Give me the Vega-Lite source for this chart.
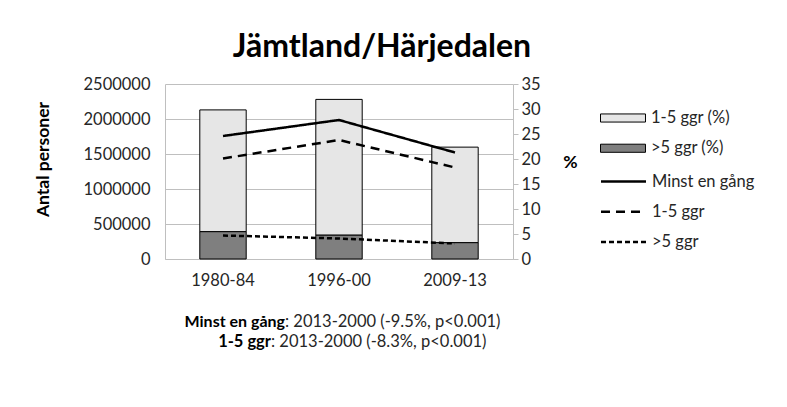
{
  "$schema": "https://vega.github.io/schema/vega-lite/v6.json",
  "width": 348,
  "height": 175,
  "autosize": "none",
  "padding": {"left": 165, "top": 84, "right": 274, "bottom": 148},
  "background": "white",
  "config": {
    "font": "Lato",
    "view": {"stroke": null},
    "axis": {"labelFont": "Lato", "labelFontSize": 16.5, "labelColor": "#262626", "labelOverlap": false, "titleFont": "Lato", "titleColor": "#000000", "titleFontSize": 17.5, "titleFontWeight": "bold"},
    "axisLeft": {"values": [0, 500000, 1000000, 1500000, 2000000, 2500000], "format": "d", "labelBound": false,
      "grid": true, "gridColor": "#bfbfbf", "gridWidth": 1, "ticks": false, "tickSize": 0, "domain": true, "domainColor": "#bfbfbf",
      "labelPadding": 15, "titleX": -122, "titleY": 75, "titleAngle": -90, "titleAlign": "center", "titleBaseline": "middle"},
    "legend": {"labelFont": "Lato", "labelFontSize": 16.5, "labelColor": "#262626"}
  },
  "title": {"text": "Jämtland/Härjedalen", "fontSize": 32, "fontWeight": "bold", "font": "Lato", "color": "#000000", "anchor": "middle", "dx": 43, "offset": 12},
  "datasets": {
    "bars": [
      {"period": "1980-84", "serie": "1-5 ggr (%)", "value": 1740000},
      {"period": "1980-84", "serie": ">5 ggr (%)", "value": 390000},
      {"period": "1996-00", "serie": "1-5 ggr (%)", "value": 1940000},
      {"period": "1996-00", "serie": ">5 ggr (%)", "value": 340000},
      {"period": "2009-13", "serie": "1-5 ggr (%)", "value": 1365000},
      {"period": "2009-13", "serie": ">5 ggr (%)", "value": 233000}
    ],
    "lines": [
      {"period": "1980-84", "serie": "Minst en gång", "pct": 24.6},
      {"period": "1996-00", "serie": "Minst en gång", "pct": 27.8},
      {"period": "2009-13", "serie": "Minst en gång", "pct": 21.3},
      {"period": "1980-84", "serie": "1-5 ggr", "pct": 20.1},
      {"period": "1996-00", "serie": "1-5 ggr", "pct": 23.8},
      {"period": "2009-13", "serie": "1-5 ggr", "pct": 18.3},
      {"period": "1980-84", "serie": ">5 ggr", "pct": 4.7},
      {"period": "1996-00", "serie": ">5 ggr", "pct": 4.1},
      {"period": "2009-13", "serie": ">5 ggr", "pct": 3.1}
    ],
    "notes": [
      {"id": 1, "lead": "Minst en gång", "detail": ": 2013-2000 (-9.5%, p<0.001)"},
      {"id": 2, "lead": "1-5 ggr", "detail": ": 2013-2000 (-8.3%, p<0.001)"}
    ]
  },
  "layer": [
    {
      "layer": [
        {
          "data": {"name": "bars"},
          "mark": {"type": "bar", "stroke": "#000000", "strokeWidth": 1},
          "encoding": {
            "x": {"field": "period", "type": "nominal", "scale": {"paddingInner": 0.6, "paddingOuter": 0.3},
              "axis": {"title": null, "labelAngle": 0, "ticks": false, "domain": true, "domainColor": "#bfbfbf", "labelPadding": 13}},
            "y": {"field": "value", "type": "quantitative", "stack": true, "scale": {"domain": [0, 2500000], "nice": false},
              "axis": {"title": "Antal personer"}},
            "color": {"field": "serie", "type": "nominal",
              "scale": {"domain": ["1-5 ggr (%)", ">5 ggr (%)"], "range": ["#e6e6e6", "#7f7f7f"]},
              "legend": {"title": null, "orient": "none", "legendX": 446, "legendY": 22, "padding": 0,
                "symbolType": "M-2,-0.36H2V0.36H-2Z", "symbolSize": 506, "symbolStrokeColor": "#000000", "symbolStrokeWidth": 1,
                "labelOffset": 16, "rowPadding": 9.25}},
            "order": {"field": "serie", "sort": "descending"}
          }
        },
        {
          "data": {"name": "notes"},
          "transform": [{"filter": "datum.id == 1"}],
          "mark": {"type": "text", "align": "right", "baseline": "middle", "fontWeight": "bold", "fontSize": 16, "font": "Lato", "color": "#000000", "dx": -54, "dy": 63},
          "encoding": {"x": {"datum": "1996-00"}, "y": {"datum": 0, "axis": {"title": "Antal personer"}}, "text": {"field": "lead"}}
        },
        {
          "data": {"name": "notes"},
          "transform": [{"filter": "datum.id == 1"}],
          "mark": {"type": "text", "align": "left", "baseline": "middle", "fontSize": 16.5, "font": "Lato", "color": "#262626", "dx": -54, "dy": 63},
          "encoding": {"x": {"datum": "1996-00"}, "y": {"datum": 0, "axis": {"title": "Antal personer"}}, "text": {"field": "detail"}}
        },
        {
          "data": {"name": "notes"},
          "transform": [{"filter": "datum.id == 2"}],
          "mark": {"type": "text", "align": "right", "baseline": "middle", "fontWeight": "bold", "fontSize": 16.5, "font": "Lato", "color": "#000000", "dx": -68, "dy": 83},
          "encoding": {"x": {"datum": "1996-00"}, "y": {"datum": 0, "axis": {"title": "Antal personer"}}, "text": {"field": "lead"}}
        },
        {
          "data": {"name": "notes"},
          "transform": [{"filter": "datum.id == 2"}],
          "mark": {"type": "text", "align": "left", "baseline": "middle", "fontSize": 16.5, "font": "Lato", "color": "#262626", "dx": -68, "dy": 83},
          "encoding": {"x": {"datum": "1996-00"}, "y": {"datum": 0, "axis": {"title": "Antal personer"}}, "text": {"field": "detail"}}
        }
      ]
    },
    {
      "data": {"name": "lines"},
      "mark": {"type": "line", "color": "#000000", "strokeWidth": 2.5},
      "encoding": {
        "x": {"field": "period", "type": "nominal"},
        "y": {"field": "pct", "type": "quantitative", "scale": {"domain": [0, 35], "nice": false},
          "axis": {"orient": "right", "title": "%", "values": [0, 5, 10, 15, 20, 25, 30, 35], "grid": false, "labelOverlap": false,
            "domain": true, "domainColor": "#bfbfbf", "ticks": true, "tickColor": "#bfbfbf", "tickSize": 5, "labelPadding": 3,
            "titleAngle": 0, "titleX": 57, "titleY": 78, "titleAlign": "center", "titleBaseline": "middle"}},
        "strokeDash": {"field": "serie", "type": "nominal",
          "scale": {"domain": ["Minst en gång", "1-5 ggr", ">5 ggr"], "range": [[1, 0], [9, 6], [5, 3]]},
          "legend": {"title": null, "orient": "none", "legendX": 446, "legendY": 85, "padding": 0,
            "symbolType": "M-2,0H2", "symbolSize": 506, "symbolStrokeColor": "#000000", "symbolStrokeWidth": 2.5, "symbolFillColor": "transparent",
            "labelOffset": 16, "rowPadding": 9.25}}
      }
    }
  ],
  "resolve": {"scale": {"y": "independent"}}
}
